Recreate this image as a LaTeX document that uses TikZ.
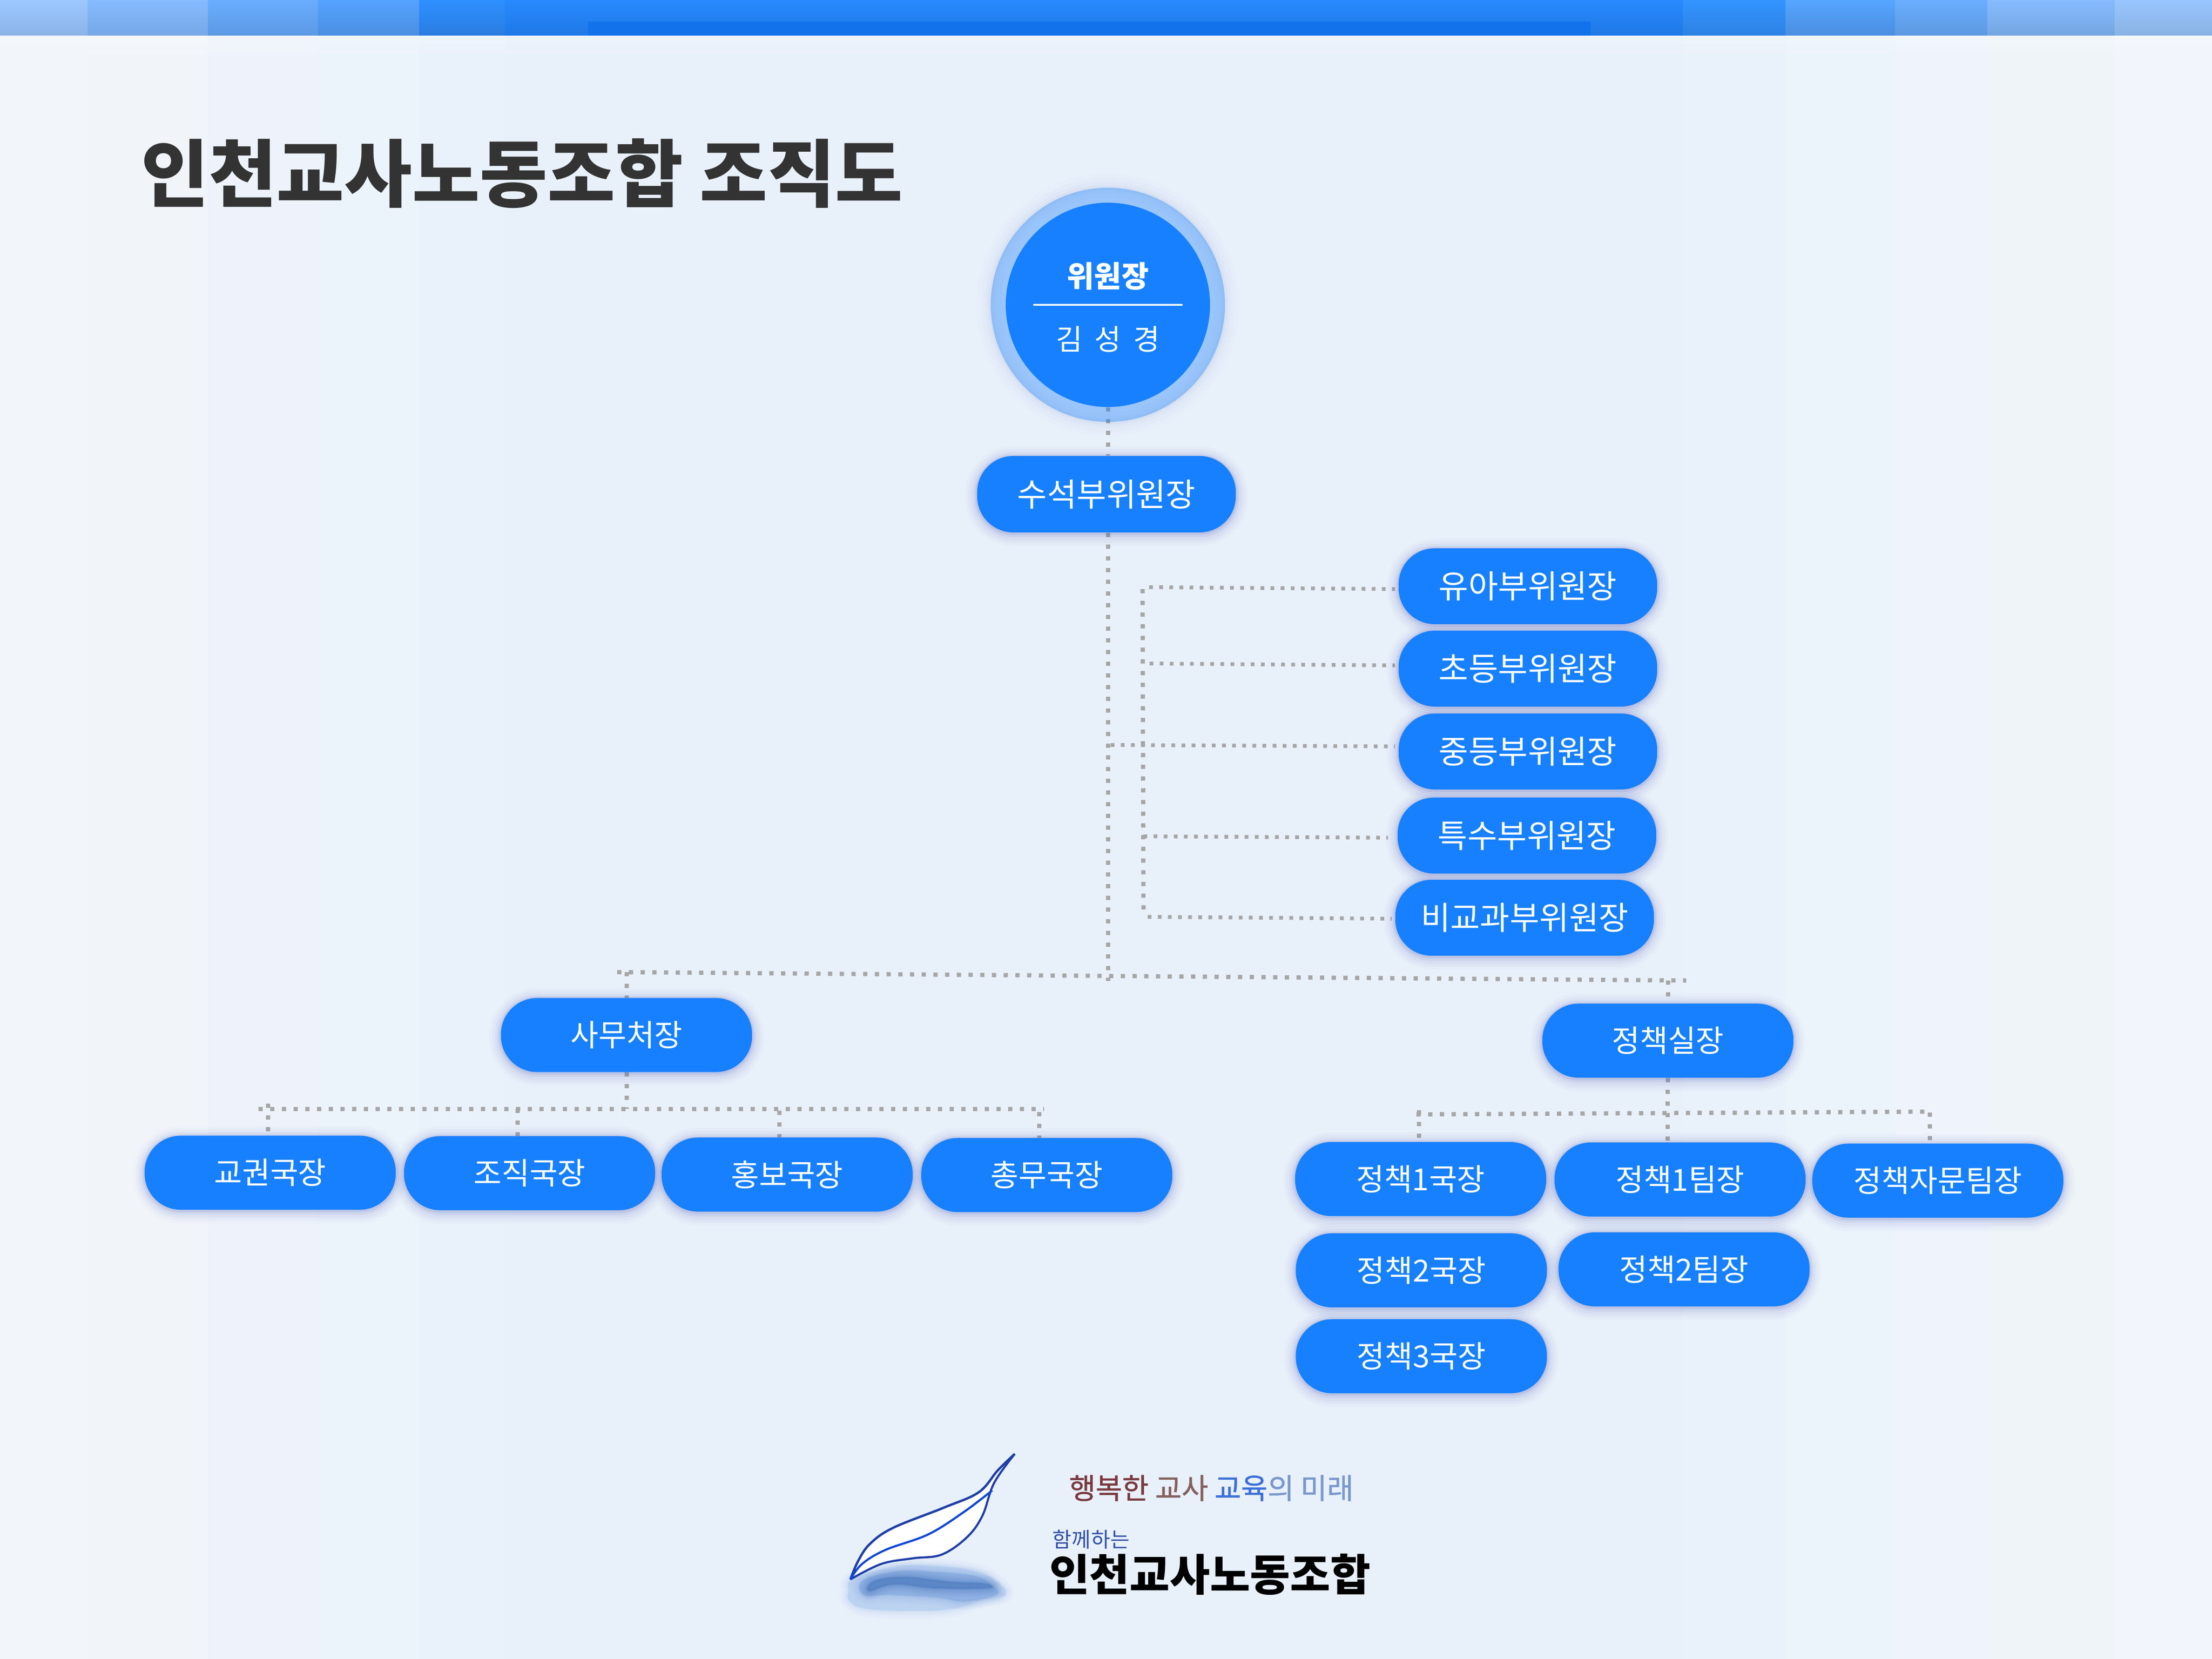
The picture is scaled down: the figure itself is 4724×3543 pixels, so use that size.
\documentclass[tikz,border=0pt]{standalone}
\usepackage{fontspec}
\setmainfont{Noto Sans CJK KR}
\newfontfamily\medfont[FakeBold=1.0]{Noto Sans CJK KR}
\usetikzlibrary{calc}
\pgfdeclarelayer{pagelayer}
\pgfdeclarelayer{linelayer}
\pgfsetlayers{pagelayer,linelayer,main}
\definecolor{pillblue}{HTML}{1780FF}
\definecolor{dotgrey}{HTML}{A6A6A6}
\definecolor{shadowc}{HTML}{4A5CB8}
\definecolor{titlec}{HTML}{333333}
\tikzset{
  softshadow/.style={
    preaction={draw=shadowc,line width=0.50cm,draw opacity=.025,transform canvas={yshift=-0.04cm}},
    preaction={draw=shadowc,line width=0.38cm,draw opacity=.035,transform canvas={yshift=-0.04cm}},
    preaction={draw=shadowc,line width=0.26cm,draw opacity=.05,transform canvas={yshift=-0.04cm}},
    preaction={draw=shadowc,line width=0.15cm,draw opacity=.08,transform canvas={yshift=-0.03cm}},
    preaction={draw=shadowc,line width=0.07cm,draw opacity=.12,transform canvas={yshift=-0.02cm}}},
  pillbase/.style={rectangle,rounded corners=0.77cm,fill=pillblue,text=white,inner sep=0pt,softshadow},
  vicepill/.style={pillbase,font=\fontsize{19.6}{22}\selectfont,minimum width=5.52cm,minimum height=1.62cm},
  deptpill/.style={pillbase,font=\fontsize{18.5}{22}\selectfont,minimum width=5.36cm,minimum height=1.58cm},
  dotline/.style={draw=dotgrey,line width=0.09cm,dash pattern=on 0.09cm off 0.16cm},
  finedot/.style={draw=dotgrey,line width=0.08cm,dash pattern=on 0.08cm off 0.136cm},
  logoblur/.style={preaction={draw=#1,line width=0.34cm,draw opacity=.07},
                   preaction={draw=#1,line width=0.26cm,draw opacity=.09},
                   preaction={draw=#1,line width=0.18cm,draw opacity=.12},
                   preaction={draw=#1,line width=0.10cm,draw opacity=.16},
                   preaction={draw=#1,line width=0.04cm,draw opacity=.22}},
}
\newcommand{\barband}[5]{%
  \shade[top color=#3,middle color=#3,bottom color=#4,shading angle=0] (#1,0) rectangle (#2,76);
  \fill[#5] (#1,76) rectangle (#2,3543);}
\begin{document}
\begin{tikzpicture}[x=0.01cm,y=-0.01cm]
\useasboundingbox (0,0) rectangle (4724,3543);
\begin{pgfonlayer}{pagelayer}
  \definecolor{ba}{HTML}{9CC8FF}\definecolor{bb}{HTML}{8AB4E8}\definecolor{pa}{HTML}{F2F6FB}
  \barband{0}{187}{ba}{bb}{pa}
  \definecolor{ba}{HTML}{85BBFF}\definecolor{bb}{HTML}{76A8E6}\definecolor{pa}{HTML}{F1F5FA}
  \barband{187}{444}{ba}{bb}{pa}
  \definecolor{ba}{HTML}{69ADFF}\definecolor{bb}{HTML}{5C99E3}\definecolor{pa}{HTML}{EEF3FB}
  \barband{444}{679}{ba}{bb}{pa}
  \definecolor{ba}{HTML}{55A3FF}\definecolor{bb}{HTML}{4A8EE0}\definecolor{pa}{HTML}{EBF3FB}
  \barband{679}{895}{ba}{bb}{pa}
  \definecolor{ba}{HTML}{2E8FFF}\definecolor{bb}{HTML}{2A7DE0}\definecolor{pa}{HTML}{E9F1FB}
  \barband{895}{1078}{ba}{bb}{pa}
  \definecolor{ba}{HTML}{288AFF}\definecolor{bb}{HTML}{1F78E5}\definecolor{pa}{HTML}{E8F0FA}
  \barband{1078}{3594}{ba}{bb}{pa}
  \definecolor{ba}{HTML}{3394FF}\definecolor{bb}{HTML}{2D82E3}\definecolor{pa}{HTML}{E9F1FA}
  \barband{3594}{3813}{ba}{bb}{pa}
  \definecolor{ba}{HTML}{55A5FF}\definecolor{bb}{HTML}{4A8EE0}\definecolor{pa}{HTML}{EBF3FB}
  \barband{3813}{4047}{ba}{bb}{pa}
  \definecolor{ba}{HTML}{6AAEFF}\definecolor{bb}{HTML}{5C99E0}\definecolor{pa}{HTML}{EEF3FC}
  \barband{4047}{4244}{ba}{bb}{pa}
  \definecolor{ba}{HTML}{85BBFF}\definecolor{bb}{HTML}{74A6E0}\definecolor{pa}{HTML}{EFF4F9}
  \barband{4244}{4516}{ba}{bb}{pa}
  \definecolor{ba}{HTML}{98C5FF}\definecolor{bb}{HTML}{8AB3E3}\definecolor{pa}{HTML}{F2F5FB}
  \barband{4516}{4724}{ba}{bb}{pa}
  \fill[white,opacity=.22] (0,76) rectangle (4724,96);
  \fill[white,opacity=.12] (187,96) rectangle (4516,116);
  \definecolor{insA}{HTML}{1272EA}
  \fill[insA] (1256,46) rectangle (3397,76);
\end{pgfonlayer}

% title
\node[anchor=west,inner sep=0pt,text=titlec,font=\fontsize{44.7}{50}\selectfont\bfseries] (title) at (301,370) {인천교사노동조합 조직도};

% chair
\node[circle,minimum size=5cm,inner sep=0pt,fill=pillblue,fill opacity=.37,
  preaction={draw=shadowc,line width=0.60cm,draw opacity=.012},
  preaction={draw=shadowc,line width=0.42cm,draw opacity=.018},
  preaction={draw=shadowc,line width=0.24cm,draw opacity=.028},
  preaction={draw=shadowc,line width=0.10cm,draw opacity=.04}] (chairring) at (2366,651) {};
\node[circle,minimum size=4.36cm,inner sep=0pt,fill=pillblue] (chair) at (2366,651) {};
\node[text=white,inner sep=0pt,font=\fontsize{18}{20}\selectfont\bfseries] (chairtitle) at (2366,590) {위원장};
\node[text=white,inner sep=0pt,font=\fontsize{17.5}{20}\selectfont] (chairname) at (2366,724) {\spaceskip=0.26cm\relax 김 성 경};
\coordinate (sepL) at (2208,651);
\coordinate (sepR) at (2524,651);
\draw[white,line width=0.035cm,line cap=round] (sepL) -- (sepR);

% pills
\node[vicepill,minimum height=1.63cm] (vice) at (2363,1055.5) {수석부위원장};
\node[vicepill] (yua) at (3263,1252) {유아부위원장};
\node[vicepill] (cho) at (3263,1428) {초등부위원장};
\node[vicepill] (jung) at (3263,1605) {중등부위원장};
\node[vicepill] (teuk) at (3261,1784.5) {특수부위원장};
\node[vicepill] (bi) at (3256,1960) {비교과부위원장};
\node[deptpill] (samu) at (1338,2210.5) {사무처장};
\node[deptpill] (gyo) at (577,2504.5) {교권국장};
\node[deptpill] (jo) at (1131,2505.5) {조직국장};
\node[deptpill] (hong) at (1681,2508.5) {홍보국장};
\node[deptpill] (chong) at (2235.5,2509.5) {총무국장};
\node[deptpill] (sil) at (3562,2222.5) {정책실장};
\node[deptpill] (pga) at (3034,2518) {정책1국장};
\node[deptpill] (pta) at (3588,2519) {정책1팀장};
\node[deptpill] (pj) at (4138.5,2521.5) {정책자문팀장};
\node[deptpill] (pgb) at (3035.5,2713) {정책2국장};
\node[deptpill] (ptb) at (3596.5,2711) {정책2팀장};
\node[deptpill] (pgc) at (3035.5,2896.5) {정책3국장};

% free joints
\coordinate (busL) at (1318,2076);
\coordinate (busR) at (3601,2094);
\coordinate (busJ) at (2366,2095);
\coordinate (sbL) at (552,2368);
\coordinate (sbR) at (2230,2368);
\coordinate (pbL) at (3025,2380);
\coordinate (pbR) at (4118,2374);
\coordinate (dGyo) at (572,2357);
\coordinate (dJo) at (1105,2368);
\coordinate (dHong) at (1664,2372);
\coordinate (dChong) at (2219,2375);
\coordinate (dPga) at (3030,2371);
\coordinate (dPta) at (3561,2377);
\coordinate (dPj) at (4121,2376);
\coordinate (vtop) at (2440,1258);
\coordinate (vbot) at (2442,1946);
\coordinate (hAL) at (2454,1254);\coordinate (hAR) at (2979,1258);
\coordinate (hBL) at (2455,1417);\coordinate (hBR) at (2979,1421);
\coordinate (hCL) at (2372,1591);\coordinate (hCR) at (2979,1594);
\coordinate (hDL) at (2442,1786);\coordinate (hDR) at (2964,1789);
\coordinate (hEL) at (2451,1958);\coordinate (hER) at (2972,1962);

\begin{pgfonlayer}{linelayer}
  \draw[dotline] (chair.south) -- (chair.south |- vice.north);
  \draw[dotline] (chair.south |- vice.south) -- (busJ);
  \draw[dotline] (busL) -- (busR);
  \draw[dotline] (samu.north |- busL) -- (samu.north);
  \draw[dotline] (sil.north |- busR) -- (sil.north);
  \draw[dotline] (samu.south) -- (samu.south |- sbL);
  \draw[dotline] (sbL) -- (sbR);
  \draw[dotline] (dGyo) -- (dGyo |- gyo.north);
  \draw[dotline] (dJo) -- (dJo |- jo.north);
  \draw[dotline] (dHong) -- (dHong |- hong.north);
  \draw[dotline] (dChong) -- (dChong |- chong.north);
  \draw[dotline] (sil.south) -- (dPta);
  \draw[dotline] (pbL) -- (pbR);
  \draw[dotline] (dPga) -- (dPga |- pga.north);
  \draw[dotline] (dPta) -- (dPta |- pta.north);
  \draw[dotline] (dPj) -- (dPj |- pj.north);
  \draw[dotline] (vtop) -- (vbot);
  \draw[finedot] (hAL) -- (hAR);
  \draw[finedot] (hBL) -- (hBR);
  \draw[finedot] (hCL) -- (hCR);
  \draw[finedot] (hDL) -- (hDR);
  \draw[finedot] (hEL) -- (hER);
\end{pgfonlayer}

% logo: blob
\definecolor{blobA}{HTML}{BCD2F1}
\definecolor{blobB}{HTML}{8FB0E2}
\definecolor{blobC}{HTML}{4F7CC0}
\path[fill=blobA,logoblur=blobA] plot[smooth cycle,tension=.7] coordinates
  {(1822,3372) (1911,3346) (1990,3344) (2085,3356) (2132,3381) (2146,3406) (2096,3417) (2032,3436) (1949,3440) (1852,3436) (1815,3420) (1812,3398)};
\path[fill=blobB,logoblur=blobB] plot[smooth cycle,tension=.7] coordinates
  {(1842,3376) (1915,3356) (1990,3356) (2082,3366) (2120,3388) (2128,3406) (2060,3420) (2000,3412) (1900,3406) (1846,3406)};
\path[fill=blobC,fill opacity=.7,logoblur=blobC] plot[smooth cycle,tension=.7] coordinates
  {(1856,3398) (1868,3376) (1935,3368) (2030,3378) (2104,3382) (2108,3392) (1998,3392) (1910,3384)};
% logo: leaf
\definecolor{leafc}{HTML}{1F3FA8}
\definecolor{veinc}{HTML}{1048D4}
\fill[white] plot[smooth,tension=.6] coordinates {(2167,3105) (2131,3140) (2090,3187) (2015,3220) (1907,3263) (1858,3297) (1833,3333) (1816,3373)}
  -- plot[smooth,tension=.6] coordinates {(1882,3340) (1949,3328) (2011,3320) (2065,3283) (2098,3237) (2123,3167) (2167,3105)} -- cycle;
\draw[leafc,line width=0.05cm] plot[smooth,tension=.6] coordinates {(2167,3105) (2131,3140) (2090,3187) (2015,3220) (1907,3263) (1858,3297) (1833,3333) (1816,3373)};
\draw[leafc,line width=0.045cm] plot[smooth,tension=.6] coordinates {(1816,3373) (1882,3340) (1949,3328) (2011,3320) (2065,3283) (2098,3237) (2123,3167) (2167,3105)};
\draw[veinc,line width=0.045cm] plot[smooth,tension=.6] coordinates {(2119,3183) (2057,3230) (1982,3277) (1891,3310) (1841,3340) (1816,3373)};
% logo: text
\definecolor{lgA}{HTML}{7A3A40}\definecolor{lgB}{HTML}{85605F}\definecolor{lgC}{HTML}{3C70D8}\definecolor{lgD}{HTML}{7A98CC}
\node[anchor=center,inner sep=0pt,font=\medfont\fontsize{17.5}{20}\selectfont] (slogan) at (2587,3178)
  {\textcolor{lgA}{행복한} \textcolor{lgB}{교사} \textcolor{lgC}{교육}\textcolor{lgD}{의 미래}};
\definecolor{lgE}{HTML}{3050A8}
\node[anchor=center,inner sep=0pt,text=lgE,font=\fontsize{12.7}{14}\selectfont] (togeth) at (2330,3288) {함께하는};
\node[anchor=center,inner sep=0pt,text=black,font=\fontsize{26.5}{30}\selectfont\bfseries] (union) at (2584,3362) {인천교사노동조합};
\end{tikzpicture}
\end{document}
